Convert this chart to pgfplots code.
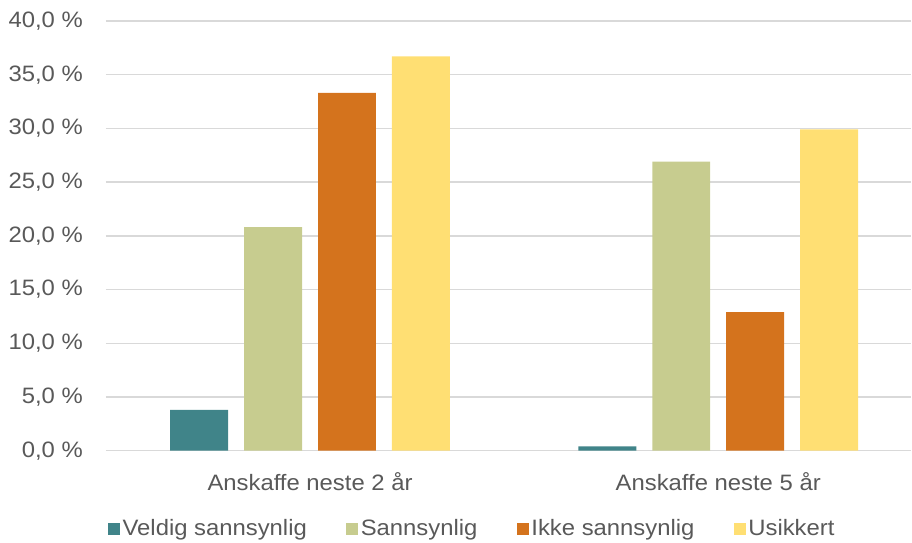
\documentclass[border=0pt]{standalone}
\usepackage{pgfplots}
\pgfplotsset{compat=1.18}
\usepackage{fontspec}
\setmainfont[FakeStretch=1.07]{Liberation Sans}

\definecolor{txt}{HTML}{595959}
\definecolor{gridgray}{HTML}{D9D9D9}
\definecolor{cTeal}{RGB}{64,132,137}
\definecolor{cOlive}{RGB}{199,204,143}
\definecolor{cOrange}{RGB}{212,115,29}
\definecolor{cYellow}{RGB}{255,223,115}

\begin{document}
\fontsize{22.3pt}{26pt}\selectfont
\begin{tikzpicture}
% fixed canvas around the axis
\path (-106pt,-92pt) rectangle (806pt,451pt);
\begin{axis}[
  at={(0,0)}, anchor=south west,
  scale only axis, width=806pt, height=430pt,
  ybar=16pt, bar width=58pt,
  xmin=-0.5, xmax=1.473,
  ymin=0, ymax=40,
  ytick={0,5,...,40},
  xtick={0,1},
  xticklabels={Anskaffe neste 2 år, Anskaffe neste 5 år},
  /pgf/number format/assume math mode=true,
  yticklabel={\pgfmathprintnumber[fixed,fixed zerofill,precision=1,use comma]{\tick}\ \%},
  axis line style={draw=none},
  tick style={draw=none},
  ymajorgrids,
  major grid style={draw=gridgray, line width=1.4pt},
  yticklabel style={text=txt, inner sep=0pt, anchor=east, xshift=-23pt},
  xticklabel style={text=txt, inner sep=0pt, anchor=north, yshift=-17pt},
  legend columns=4,
  legend image code/.code={\fill[#1] (0pt,-6pt) rectangle (12pt,6pt);},
  legend style={draw=none, fill=none, inner sep=0pt, text=txt,
    at={(0.0025,-0.182)}, anchor=west,
    nodes={inner xsep=2.5pt, inner ysep=0pt},
    /tikz/every even column/.append style={column sep=37pt}},
]
\addplot[fill=cTeal, draw=none] coordinates {(0,3.8) (1,0.4)};
\addplot[fill=cOlive, draw=none] coordinates {(0,20.8) (1,26.9)};
\addplot[fill=cOrange, draw=none] coordinates {(0,33.3) (1,12.9)};
\addplot[fill=cYellow, draw=none] coordinates {(0,36.7) (1,29.9)};
\legend{Veldig sannsynlig, Sannsynlig, Ikke sannsynlig, Usikkert}
\end{axis}
\end{tikzpicture}
\end{document}
